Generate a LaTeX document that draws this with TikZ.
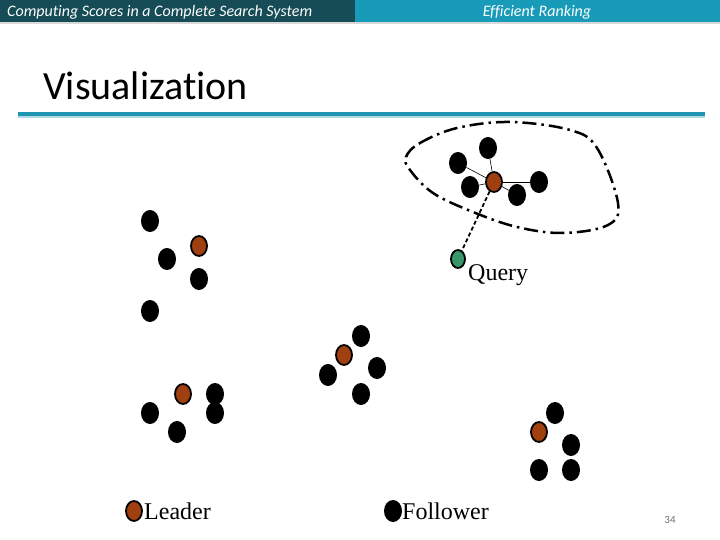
\documentclass[tikz,border=0pt]{standalone}
\usepackage{fontspec}
\setmainfont{Liberation Serif}
\newfontfamily\slidefont[Ligatures=NoCommon]{Carlito}
\usetikzlibrary{shapes.geometric}

\definecolor{headdark}{RGB}{21,76,86}
\definecolor{headlight}{RGB}{24,155,184}
\definecolor{ruleblue}{RGB}{30,150,178}
\definecolor{leaderfill}{RGB}{160,64,16}
\definecolor{queryfill}{RGB}{56,150,104}

\tikzset{
  dot/.style={ellipse, inner sep=0pt, minimum width=18pt, minimum height=22pt},
  follower/.style={dot, fill=black},
  leader/.style={dot, fill=leaderfill, draw=black, line width=1.8pt, minimum width=16pt, minimum height=20pt},
  query/.style={dot, fill=queryfill, draw=black, line width=1.8pt, minimum width=14pt, minimum height=18pt},
  label/.style={font=\fontsize{24}{26}\selectfont, inner sep=0pt}
}

\begin{document}
\begin{tikzpicture}[x=1pt, y=-1pt]
	\useasboundingbox (0, 0) rectangle (720, 540);
	\fill [white] (0, 0) rectangle (720, 540);

	% header
	\fill [headdark] (0, 0) rectangle (355, 22);
	\fill [headlight] (355, 0) rectangle (720, 22);
	\draw [black!15, line width=1.5pt] (0, 23) -- (720, 23);
	\node [anchor=base west, inner sep=0pt, text=white, font=\slidefont\itshape\fontsize{16}{18}\selectfont] at (7, 17) (htitle) {Computing Scores in a Complete Search System};
	\node [anchor=base, inner sep=0pt, text=white, font=\slidefont\itshape\fontsize{16}{18}\selectfont] at (537, 17) (hsub) {Efficient Ranking};

	% title
	\node [anchor=base west, inner sep=0pt, font=\slidefont\fontsize{40}{44}\selectfont] at (43, 100) (title) {Visualization};
	\draw [ruleblue, line width=4pt] (18, 114) -- (705, 114);
	\draw [ruleblue!35, line width=1.5pt] (18, 117) -- (705, 117);

	% cluster with query
	\node [follower] at (488, 148) (a1) {};
	\node [follower] at (458, 163) (a2) {};
	\node [follower] at (470, 187) (a3) {};
	\node [leader] at (494, 182) (la) {};
	\node [follower] at (539, 182) (a4) {};
	\node [follower] at (517, 195) (a5) {};
	\node [query] at (458, 259) (q) {};
	\node [label, anchor=base west] at (468, 280) (qtext) {Query};

	\draw [black, line width=0.6pt] (la) -- (a1);
	\draw [black, line width=0.6pt] (la) -- (a2);
	\draw [black, line width=0.6pt] (la) -- (a3);
	\draw [black, line width=0.6pt] (la) -- (a4);
	\draw [black, line width=0.6pt] (la) -- (a5);
	\draw [black, line width=1.8pt, dash pattern=on 4pt off 2.5pt] (la) -- (q);

	\draw [black, line width=2.5pt, dash pattern=on 14pt off 5pt on 2.5pt off 5pt]
		plot [smooth cycle, tension=0.6] coordinates {(406, 157) (420, 143) (457, 128) (510, 122) (570, 130) (597, 148) (618, 203) (608, 225) (563, 233) (517, 227) (473, 212) (433, 193) (410, 170)};

	% left upper group
	\node [follower] at (150, 221) (b1) {};
	\node [leader] at (199, 246) (lb) {};
	\node [follower] at (167, 259) (b2) {};
	\node [follower] at (199, 279) (b3) {};
	\node [follower] at (150, 311) (b4) {};

	% left lower group
	\node [leader] at (183, 394) (lc) {};
	\node [follower] at (215, 394) (c1) {};
	\node [follower] at (215, 413) (c2) {};
	\node [follower] at (150, 413) (c3) {};
	\node [follower] at (177, 432) (c4) {};

	% middle group
	\node [follower] at (361, 336) (d1) {};
	\node [leader] at (344, 355) (ld) {};
	\node [follower] at (377, 368) (d2) {};
	\node [follower] at (328, 375) (d3) {};
	\node [follower] at (361, 394) (d4) {};

	% right group
	\node [follower] at (555, 413) (e1) {};
	\node [leader] at (539, 432) (le) {};
	\node [follower] at (571, 445) (e2) {};
	\node [follower] at (539, 470) (e3) {};
	\node [follower] at (571, 470) (e4) {};

	% legend
	\node [leader] at (134, 511) (kl) {};
	\node [label, anchor=base west] at (144, 519) (ktl) {Leader};
	\node [follower] at (393, 511) (kf) {};
	\node [label, anchor=base west] at (402, 519) (ktf) {Follower};

	\node [inner sep=0pt, text=black!55, font=\slidefont\fontsize{11}{13}\selectfont] at (670, 520) (pnum) {34};
\end{tikzpicture}
\end{document}
